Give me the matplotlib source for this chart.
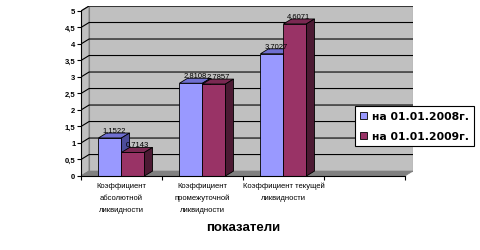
import numpy as np
import matplotlib.pyplot as plt
from matplotlib.patches import Polygon, Rectangle, Patch

plt.rcParams['font.family'] = ['Liberation Sans', 'DejaVu Sans']

# data
categories = ['Коэффициент\nабсолютной\nликвидности',
              'Коэффициент\nпромежуточной\nликвидности',
              'Коэффициент текущей\nликвидности']
series_names = ['на 01.01.2008г.', 'на 01.01.2009г.']
values_2008 = [1.1522, 2.8108, 3.7027]
values_2009 = [0.7143, 2.7857, 4.6071]
yticks = np.arange(0, 5.01, 0.5)

# front, top, side colours for each series
series_colors = [('#9999FF', '#6F6FD0', '#4C4C99'),
                 ('#993366', '#7A2952', '#4C1A33')]

n_slots = 4          # excel left an empty 4th category slot
dx, dy = 0.1, 0.15   # fake 3d depth in data units
w = 0.284

fig = plt.figure(figsize=(4.8, 2.51), dpi=100)
ax = fig.add_axes([81 / 480, 74 / 251, 332 / 480, 170 / 251])
ax.set_xlim(0, n_slots + dx)
ax.set_ylim(0, 5 + dy)

# walls and floor
ax.add_patch(Polygon([(0, 0), (dx, dy), (dx, 5 + dy), (0, 5)],
                     fc='#C0C0C0', ec='#808080', lw=0.8, zorder=0))
ax.add_patch(Rectangle((dx, dy), n_slots, 5,
                       fc='#C0C0C0', ec='#808080', lw=0.8, zorder=0))
ax.add_patch(Polygon([(0, 0), (n_slots, 0), (n_slots + dx, dy), (dx, dy)],
                     fc='#808080', ec='#808080', lw=0.5, zorder=1))
for v in yticks[1:]:
    ax.plot([0, dx, n_slots + dx], [v, v + dy, v + dy], color='black', lw=0.8, zorder=1)

# bars
centers = np.arange(len(categories)) + 0.5
for j, vals in enumerate([values_2008, values_2009]):
    front, top, side = series_colors[j]
    x = centers + (j - 1) * w
    ax.bar(x, vals, w, align='edge', color=front, edgecolor='black', lw=0.6, zorder=3)
    for x0, v in zip(x, vals):
        ax.add_patch(Polygon([(x0, v), (x0 + w, v), (x0 + w + dx, v + dy), (x0 + dx, v + dy)],
                             fc=top, ec='black', lw=0.6, zorder=3))
        ax.add_patch(Polygon([(x0 + w, 0), (x0 + w + dx, dy), (x0 + w + dx, v + dy), (x0 + w, v)],
                             fc=side, ec='black', lw=0.6, zorder=3))
        ax.text(x0 + w / 2 + dx / 2, v + dy, f'{v:.4f}'.replace('.', ','),
                ha='center', va='bottom', fontsize=5.5, zorder=4)

# axes
for s in ['top', 'right']:
    ax.spines[s].set_visible(False)
ax.spines['left'].set_bounds(0, 5)
ax.spines['bottom'].set_bounds(0, n_slots)
ax.spines['left'].set_zorder(5)
ax.spines['bottom'].set_zorder(5)
ax.set_yticks(yticks)
ax.set_yticklabels([f'{t:g}'.replace('.', ',') for t in yticks], fontsize=5.5, fontweight='bold')
ax.set_xticks(range(n_slots + 1))
ax.set_xticklabels([])
ax.set_xticks(centers, minor=True)
ax.set_xticklabels(categories, minor=True, fontsize=5.5, linespacing=2.0)
ax.tick_params(axis='both', which='major', length=3, width=0.8, pad=1)
ax.tick_params(axis='x', which='minor', length=0, pad=4)

fig.text(243 / 480, 1 - 228 / 251, 'показатели', ha='center', va='center',
         fontsize=9.5, fontweight='bold')

handles = [Patch(fc=c[0], ec='black', lw=0.6) for c in series_colors]
leg = fig.legend(handles, series_names, loc='upper left',
                 bbox_to_anchor=(350 / 480, 1 - 102 / 251), fancybox=False,
                 edgecolor='black', framealpha=1, handlelength=0.65, handleheight=0.65,
                 handletextpad=0.45, labelspacing=0.9, borderpad=0.45,
                 prop={'family': 'DejaVu Sans', 'size': 7.8, 'weight': 'bold'})
leg.get_frame().set_linewidth(0.8)

fig.savefig('out.png', dpi=100)
